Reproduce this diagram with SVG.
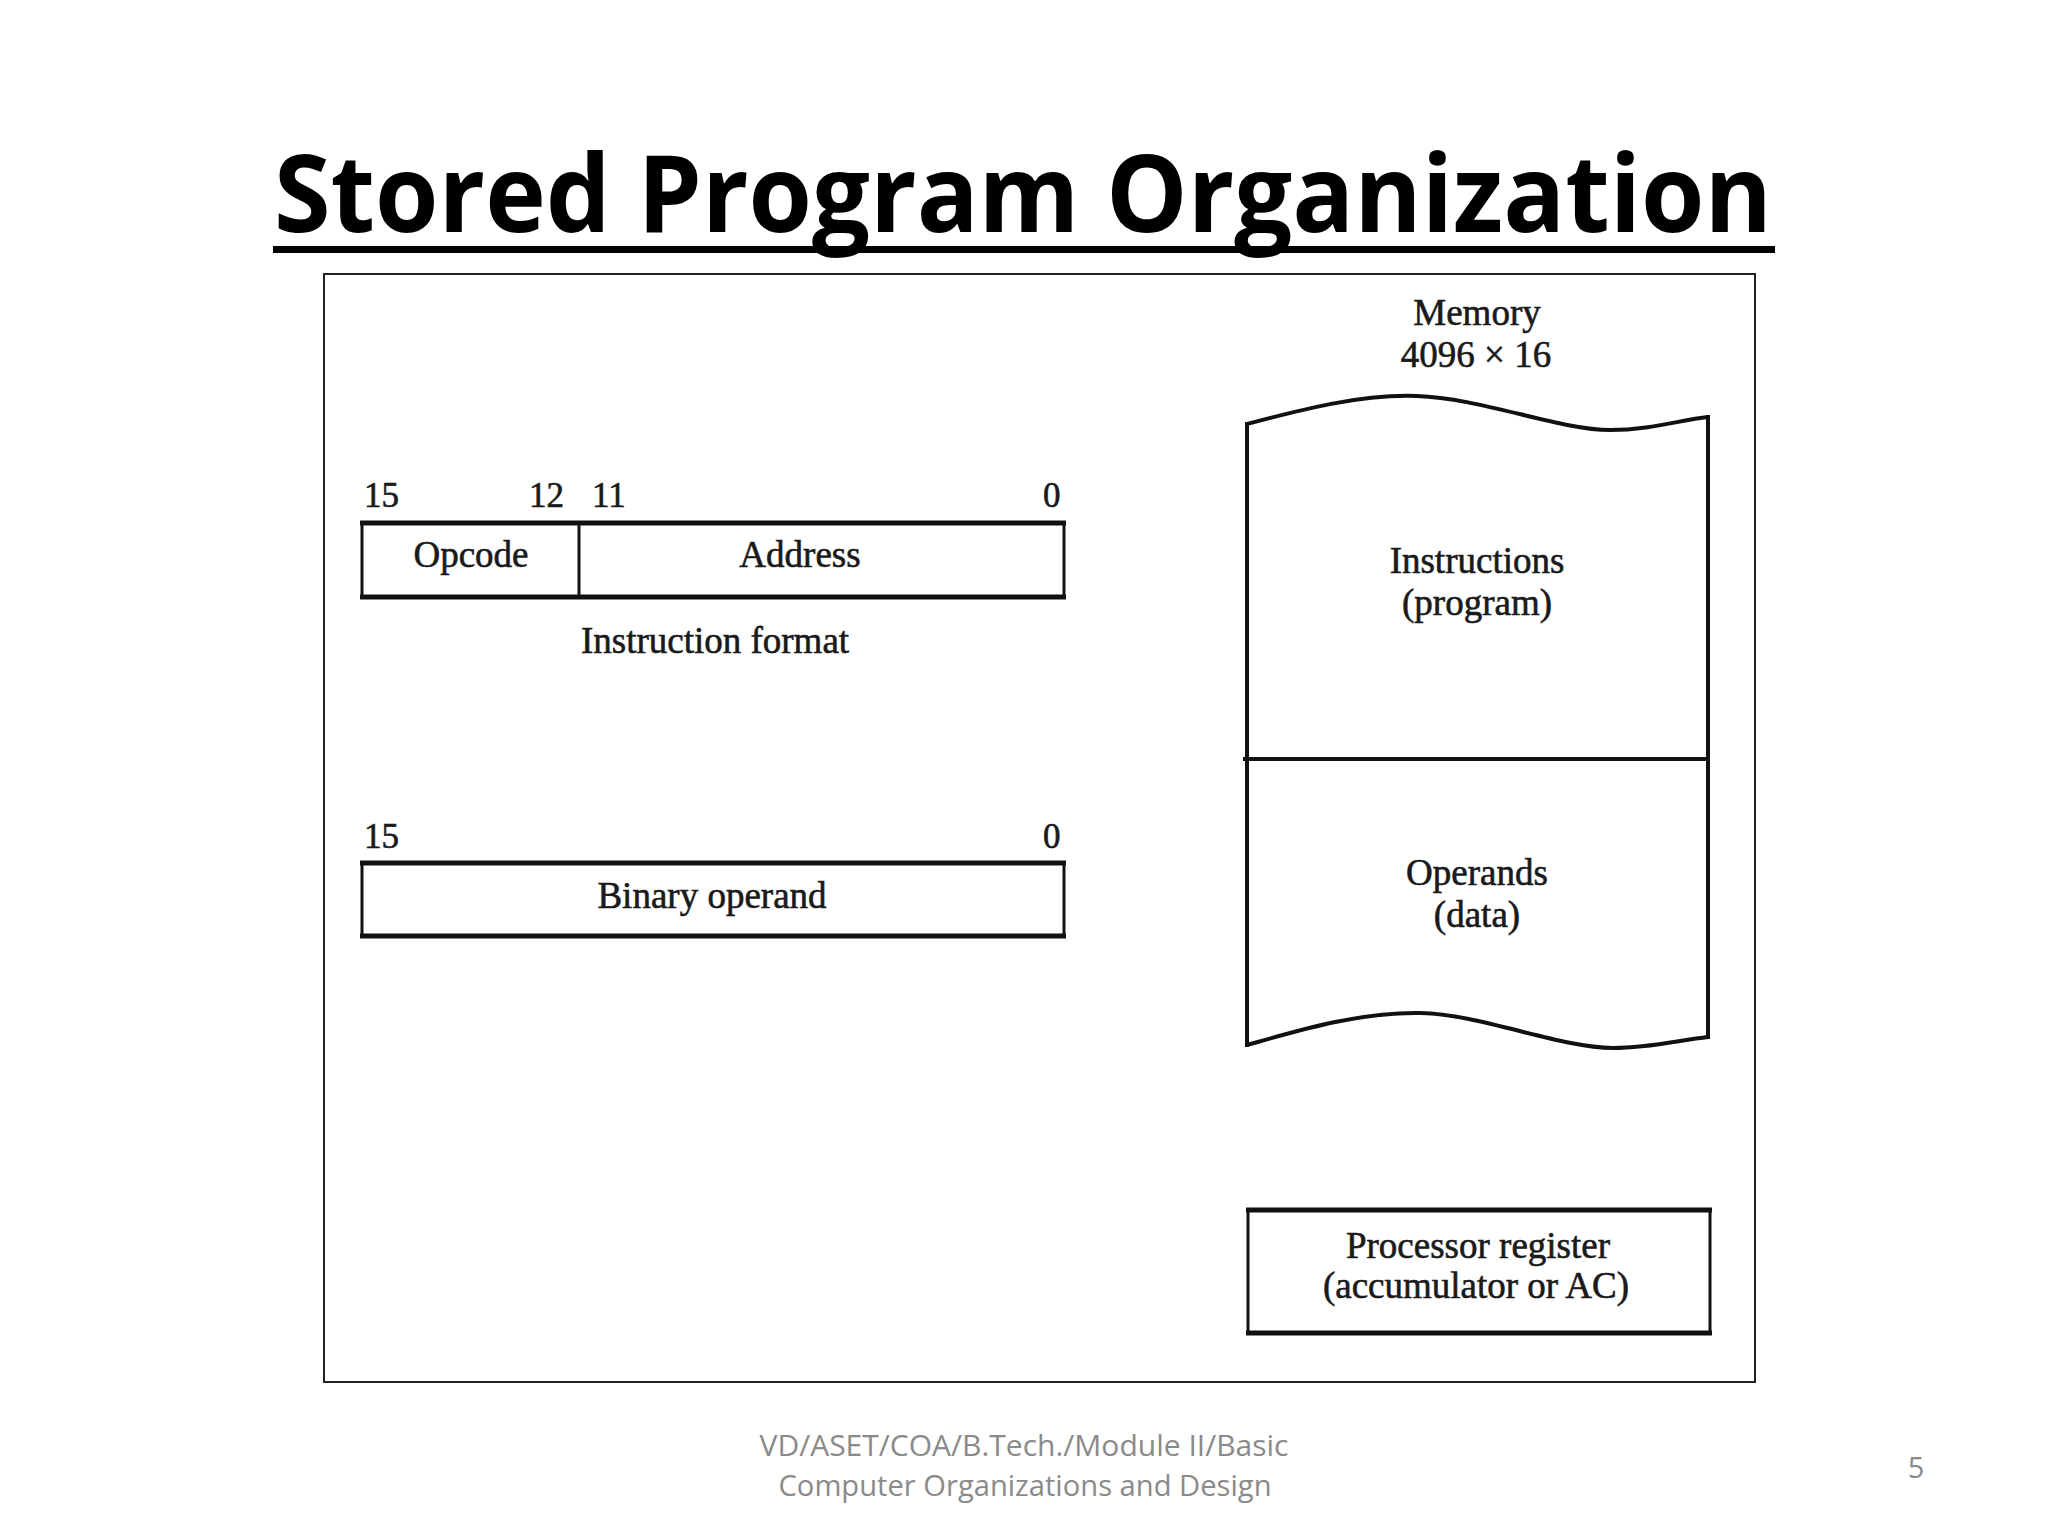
<svg xmlns="http://www.w3.org/2000/svg" width="2048" height="1536" viewBox="0 0 2048 1536">
<style>
.lbl{font-family:"Liberation Serif","Times New Roman",serif;font-size:37px;fill:#1a1a1a;stroke:#1a1a1a;stroke-width:0.6;text-anchor:middle}
.num{font-family:"Liberation Serif","Times New Roman",serif;font-size:35px;fill:#1a1a1a;stroke:#1a1a1a;stroke-width:0.6}
.h{stroke:#111;stroke-width:5;fill:none}
.v{stroke:#111;stroke-width:3;fill:none}
.mem{stroke:#111;stroke-width:4;fill:none}
.foot{font-family:"Open Sans","Liberation Sans",sans-serif;font-size:29px;fill:#8a8a8a;text-anchor:middle}
</style>
<rect x="0" y="0" width="2048" height="1536" fill="#ffffff"/>
<g id="title">
<text x="274" y="232" font-family="'Open Sans','Liberation Sans',sans-serif" font-weight="bold" font-size="108" fill="#000" textLength="1498" lengthAdjust="spacingAndGlyphs">Stored Program Organization</text>
<rect x="273" y="246" width="1502" height="7" fill="#000"/>
</g>
<g id="frame">
<rect x="324" y="274" width="1431" height="1108" fill="none" stroke="#222" stroke-width="2"/>
</g>
<g id="instruction-format">
<text class="num" x="364" y="507">15</text>
<text class="num" x="529" y="507">12</text>
<text class="num" x="592" y="507">11</text>
<text class="num" x="1043" y="507">0</text>
<line class="h" x1="360" y1="523" x2="1066" y2="523"/>
<line class="h" x1="360" y1="597" x2="1066" y2="597"/>
<line class="v" x1="362" y1="523" x2="362" y2="597"/>
<line class="v" x1="1064" y1="523" x2="1064" y2="597"/>
<line class="v" x1="579" y1="523" x2="579" y2="597"/>
<text class="lbl" x="471" y="567">Opcode</text>
<text class="lbl" x="800" y="567">Address</text>
<text class="lbl" x="715" y="653">Instruction format</text>
</g>
<g id="binary-operand">
<text class="num" x="364" y="848">15</text>
<text class="num" x="1043" y="848">0</text>
<line class="h" x1="360" y1="863" x2="1066" y2="863"/>
<line class="h" x1="360" y1="936" x2="1066" y2="936"/>
<line class="v" x1="362" y1="863" x2="362" y2="936"/>
<line class="v" x1="1064" y1="863" x2="1064" y2="936"/>
<text class="lbl" x="712" y="908">Binary operand</text>
</g>
<g id="memory">
<text class="lbl" x="1477" y="325">Memory</text>
<text class="lbl" x="1476" y="367">4096 × 16</text>
<path class="mem" d="M1247,424 C1300,410 1360,394 1417,396 C1480,398 1560,430 1610,430 C1650,430 1680,420 1708,417"/>
<path class="mem" d="M1247,1045 C1300,1030 1360,1012 1420,1013 C1480,1014 1560,1048 1613,1048 C1650,1048 1680,1040 1708,1037"/>
<line class="mem" x1="1247" y1="422" x2="1247" y2="1047"/>
<line class="mem" x1="1708" y1="415" x2="1708" y2="1039"/>
<line class="mem" x1="1243" y1="759" x2="1708" y2="759"/>
<text class="lbl" x="1477" y="573">Instructions</text>
<text class="lbl" x="1477" y="615">(program)</text>
<text class="lbl" x="1477" y="885">Operands</text>
<text class="lbl" x="1477" y="927">(data)</text>
</g>
<g id="processor-register">
<line class="h" x1="1246" y1="1210" x2="1712" y2="1210"/>
<line class="h" x1="1246" y1="1333" x2="1712" y2="1333"/>
<line class="v" x1="1248" y1="1210" x2="1248" y2="1333"/>
<line class="v" x1="1710" y1="1210" x2="1710" y2="1333"/>
<text class="lbl" x="1478" y="1258">Processor register</text>
<text class="lbl" x="1476" y="1298">(accumulator or AC)</text>
</g>
<g id="connectors"/>
<g id="footer">
<text class="foot" x="1024" y="1456" textLength="529" lengthAdjust="spacingAndGlyphs">VD/ASET/COA/B.Tech./Module II/Basic</text>
<text class="foot" x="1025" y="1496" textLength="493" lengthAdjust="spacingAndGlyphs">Computer Organizations and Design</text>
<text class="foot" x="1916" y="1478" font-size="31">5</text>
</g>
</svg>
